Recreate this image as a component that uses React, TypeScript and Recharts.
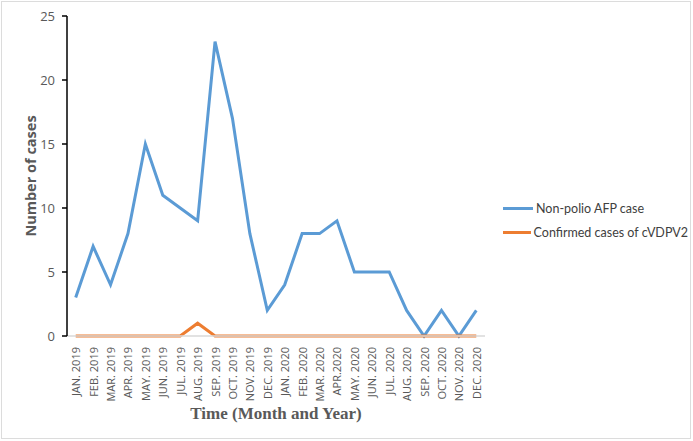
import React from "react";
import { LineChart, Line, XAxis, YAxis, Label } from "recharts";

const months = [
  "JAN. 2019", "FEB. 2019", "MAR. 2019", "APR. 2019", "MAY. 2019", "JUN. 2019",
  "JUL. 2019", "AUG. 2019", "SEP. 2019", "OCT. 2019", "NOV. 2019", "DEC. 2019",
  "JAN. 2020", "FEB. 2020", "MAR. 2020", "APR.2020", "MAY. 2020", "JUN. 2020",
  "JUL. 2020", "AUG. 2020", "SEP. 2020", "OCT. 2020", "NOV. 2020", "DEC. 2020",
];
const nonPolioAFP = [3, 7, 4, 8, 15, 11, 10, 9, 23, 17, 8, 2, 4, 8, 8, 9, 5, 5, 5, 2, 0, 2, 0, 2];
const cVDPV2 = [0, 0, 0, 0, 0, 0, 0, 1, 0, 0, 0, 0, 0, 0, 0, 0, 0, 0, 0, 0, 0, 0, 0, 0];
const yTicks = [0, 5, 10, 15, 20, 25];

const seriesNames = ["Non-polio AFP case", "Confirmed cases of cVDPV2"];
const colors = ["#5B9BD5", "#ED7D31"];

const data = months.map((m, i) => ({ month: m, afp: nonPolioAFP[i], vdpv: cVDPV2[i] }));

const SANS = "'Open Sans', 'Liberation Sans', sans-serif";

const XTick = (props: any) => {
  const { x, y, payload } = props;
  return (
    <text
      x={x}
      y={y}
      transform={`rotate(-90, ${x}, ${y})`}
      textAnchor="end"
      dominantBaseline="central"
      fontSize={11}
      fill="#595959"
      fontFamily={SANS}
    >
      {payload.value}
    </text>
  );
};

const YLabel = (props: any) => {
  const { viewBox } = props;
  const cx = 30;
  const cy = viewBox.y + viewBox.height / 2;
  return (
    <text
      x={cx}
      y={cy}
      transform={`rotate(-90, ${cx}, ${cy})`}
      textAnchor="middle"
      dominantBaseline="central"
      fontSize={14.5}
      fontWeight="bold"
      fill="#595959"
      fontFamily={SANS}
    >
      Number of cases
    </text>
  );
};

export default function App() {
  return (
    <div style={{ position: "absolute", left: 0, top: 0, width: 693, height: 441, background: "#fff" }}>
      <div
        style={{
          position: "absolute",
          left: 1,
          top: 1,
          width: 690,
          height: 438,
          boxSizing: "border-box",
          border: "1px solid #dcdcdc",
        }}
      />
      <LineChart
        width={693}
        height={441}
        data={data}
        margin={{ top: 16, right: 208, bottom: 15, left: 7 }}
      >
        <XAxis
          dataKey="month"
          interval={0}
          tick={<XTick />}
          tickLine={false}
          axisLine={{ stroke: "#d9d9d9", strokeWidth: 1.5 }}
          height={90}
          tickMargin={5}
          padding={{ left: 8.7, right: 8.7 }}
        >
          <Label
            value="Time (Month and Year)"
            position="insideBottom"
            offset={7}
            style={{
              fontFamily: "'Liberation Serif', 'Times New Roman', serif",
              fontWeight: "bold",
              fontSize: 17,
              fill: "#595959",
            }}
          />
        </XAxis>
        <YAxis
          domain={[0, 25]}
          ticks={yTicks}
          width={60}
          tickSize={5}
          tickMargin={7}
          axisLine={{ stroke: "#000", strokeWidth: 1.5 }}
          tickLine={{ stroke: "#000", strokeWidth: 1.5 }}
          tick={{ fontSize: 13, fill: "#595959", fontFamily: SANS }}
          label={<YLabel />}
        />
        <Line
          type="linear"
          dataKey="afp"
          name={seriesNames[0]}
          stroke={colors[0]}
          strokeWidth={3}
          dot={false}
          isAnimationActive={false}
        />
        <Line
          type="linear"
          dataKey="vdpv"
          name={seriesNames[1]}
          stroke={colors[1]}
          strokeWidth={3}
          dot={false}
          isAnimationActive={false}
        />
      </LineChart>
      <div style={{ position: "absolute", left: 503, top: 196, width: 185, fontFamily: "Lato, 'Open Sans', sans-serif" }}>
        {seriesNames.map((n, i) => (
          <div key={n} style={{ display: "flex", alignItems: "center", height: 24 }}>
            <div style={{ width: 30, height: 3, background: colors[i], marginRight: 3 }} />
            <span style={{ fontSize: 12.5, color: "#404040", whiteSpace: "nowrap" }}>{n}</span>
          </div>
        ))}
      </div>
    </div>
  );
}
